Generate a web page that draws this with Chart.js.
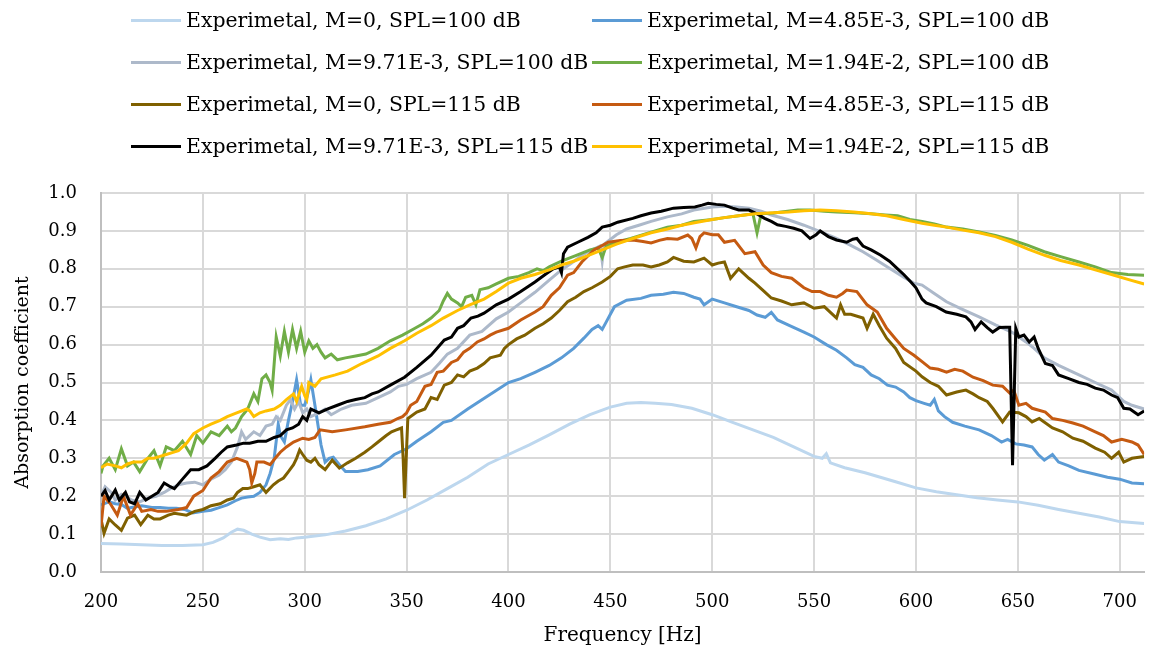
<!DOCTYPE html>
<html>
<head>
<meta charset="utf-8">
<script src="https://cdn.jsdelivr.net/npm/chart.js@4.4.1/dist/chart.umd.min.js"></script>
<style>
  html, body { margin: 0; padding: 0; background: #fff; }
  #wrap { position: relative; width: 1157px; height: 652px; }
  #legend { position: absolute; left: 0; top: 0; width: 1157px; height: 170px; font-family: "DejaVu Serif", serif; font-size: 20.4px; color: #000; }
  .item { position: absolute; height: 24px; display: flex; align-items: center; white-space: nowrap; }
  .swatch { display: inline-block; width: 50px; height: 3px; margin-right: 5px; }
</style>
</head>
<body>
<div id="wrap">
  <canvas id="absorptionChart" width="1157" height="652"></canvas>
  <div id="legend"></div>
</div>
<script>
// [frequency Hz, absorption coefficient]
var expM0_100 = [[200,0.075],[210,0.074],[220,0.072],[230,0.070],[240,0.070],[250,0.072],[255,0.078],[260,0.090],[264,0.105],[267,0.113],
  [270,0.110],[274,0.100],[278,0.092],[283,0.085],[288,0.088],[292,0.086],[296,0.090],[300,0.092],[310,0.098],[320,0.108],
  [330,0.122],[340,0.140],[350,0.163],[360,0.190],[370,0.220],[380,0.250],[390,0.285],[400,0.310],[410,0.335],[420,0.362],
  [430,0.390],[440,0.415],[450,0.435],[458,0.445],[465,0.447],[472,0.445],[480,0.442],[490,0.432],[500,0.415],[510,0.395],
  [520,0.375],[530,0.355],[540,0.330],[550,0.305],[554,0.300],[556,0.312],[558,0.288],[565,0.275],[575,0.262],[590,0.238],
  [600,0.222],[610,0.212],[620,0.204],[630,0.196],[640,0.190],[650,0.185],[660,0.176],[670,0.165],[680,0.155],[690,0.145],
  [700,0.133],[712,0.128]];

var expM485_100 = [[200,0.177],[204,0.185],[207,0.18],[210,0.178],[213,0.168],[217,0.172],[220,0.175],[225,0.17],[229,0.17],[233,0.168],
  [237,0.168],[241,0.165],[245,0.156],[250,0.16],[254,0.163],[258,0.17],[262,0.177],[266,0.188],[269,0.195],[272,0.198],
  [275,0.2],[278,0.21],[281,0.23],[283,0.26],[285,0.30],[287,0.39],[288,0.36],[290,0.343],[292,0.40],[294,0.45],
  [296,0.507],[298,0.44],[300,0.44],[302,0.48],[303,0.507],[305,0.44],[307,0.37],[308,0.335],[310,0.29],[312,0.30],
  [314,0.303],[317,0.283],[320,0.265],[326,0.265],[331,0.27],[337,0.28],[344,0.31],[350,0.325],[355,0.345],[362,0.37],
  [368,0.395],[372,0.40],[380,0.43],[390,0.465],[400,0.50],[406,0.51],[413,0.527],[420,0.545],[426,0.565],[432,0.59],
  [437,0.617],[441,0.64],[444,0.65],[446,0.64],[448,0.66],[452,0.70],[458,0.717],[465,0.722],[470,0.73],[476,0.733],
  [481,0.738],[486,0.735],[491,0.725],[494,0.72],[496,0.705],[500,0.72],[506,0.71],[512,0.70],[518,0.69],[522,0.678],
  [526,0.672],[529,0.685],[532,0.665],[538,0.65],[545,0.633],[550,0.62],[556,0.60],[561,0.585],[566,0.565],[570,0.547],
  [574,0.54],[578,0.52],[582,0.51],[586,0.493],[590,0.488],[594,0.475],[597,0.46],[600,0.452],[604,0.445],[607,0.44],
  [609,0.455],[611,0.425],[614,0.41],[618,0.395],[624,0.385],[631,0.375],[637,0.36],[642,0.343],[645,0.35],[649,0.338],
  [653,0.335],[657,0.33],[660,0.31],[663,0.295],[667,0.31],[670,0.29],[675,0.28],[680,0.268],[688,0.258],[694,0.25],
  [700,0.245],[706,0.235],[712,0.233]];

var expM971_100 = [[200,0.20],[202,0.225],[205,0.21],[207,0.19],[210,0.205],[212,0.20],[215,0.19],[219,0.185],[223,0.195],[227,0.20],
  [231,0.21],[234,0.22],[238,0.23],[242,0.235],[246,0.237],[250,0.23],[254,0.245],[258,0.256],[261,0.27],[264,0.29],
  [267,0.33],[269,0.37],[271,0.35],[273,0.36],[275,0.37],[278,0.36],[281,0.385],[284,0.39],[286,0.41],[288,0.40],
  [291,0.44],[293,0.455],[295,0.43],[297,0.45],[299,0.42],[301,0.43],[303,0.41],[307,0.42],[310,0.43],[313,0.415],
  [318,0.43],[323,0.44],[330,0.445],[336,0.46],[342,0.475],[346,0.49],[350,0.495],[355,0.51],[362,0.527],[366,0.55],
  [370,0.575],[375,0.59],[381,0.625],[387,0.635],[394,0.668],[400,0.686],[406,0.71],[413,0.738],[420,0.77],[426,0.797],
  [431,0.815],[436,0.836],[441,0.85],[445,0.86],[446,0.82],[447,0.865],[453,0.89],[458,0.905],[464,0.915],[470,0.925],
  [478,0.937],[485,0.945],[491,0.955],[500,0.963],[506,0.965],[512,0.963],[518,0.96],[524,0.952],[529,0.942],[537,0.93],
  [545,0.915],[553,0.898],[561,0.88],[568,0.862],[574,0.845],[580,0.825],[586,0.805],[594,0.778],[599,0.762],[603,0.757],
  [609,0.735],[615,0.713],[622,0.695],[631,0.673],[639,0.652],[647,0.633],[654,0.607],[658,0.59],[663,0.565],[670,0.545],
  [680,0.52],[688,0.50],[696,0.48],[702,0.45],[706,0.44],[712,0.43]];

var expM194_100 = [[200,0.26],[201,0.28],[204,0.30],[207,0.27],[210,0.325],[213,0.28],[216,0.29],[219,0.265],[223,0.30],[226,0.32],
  [229,0.28],[232,0.33],[236,0.32],[240,0.345],[244,0.31],[247,0.36],[250,0.34],[254,0.37],[258,0.36],[262,0.385],
  [264,0.37],[266,0.38],[269,0.41],[272,0.43],[275,0.47],[277,0.45],[279,0.51],[281,0.52],[283,0.50],[284,0.48],
  [286,0.62],[288,0.57],[290,0.635],[292,0.58],[294,0.64],[296,0.59],[298,0.635],[300,0.58],[302,0.61],[304,0.59],
  [306,0.60],[308,0.58],[310,0.565],[313,0.575],[316,0.56],[320,0.565],[325,0.57],[330,0.575],[336,0.59],[342,0.61],
  [348,0.625],[353,0.64],[358,0.655],[362,0.67],[366,0.69],[368,0.715],[370,0.735],[372,0.72],[375,0.71],[377,0.70],
  [379,0.725],[382,0.73],[384,0.705],[386,0.745],[390,0.75],[394,0.76],[400,0.775],[405,0.78],[410,0.79],[414,0.80],
  [417,0.795],[420,0.805],[426,0.82],[433,0.835],[440,0.85],[444,0.855],[446,0.83],[448,0.86],[453,0.87],[460,0.88],
  [466,0.89],[472,0.90],[478,0.91],[485,0.915],[491,0.925],[500,0.93],[506,0.935],[513,0.94],[520,0.945],[522,0.895],
  [524,0.945],[530,0.947],[537,0.952],[542,0.955],[548,0.955],[555,0.952],[561,0.95],[570,0.948],[578,0.945],[585,0.942],
  [591,0.94],[597,0.93],[603,0.925],[609,0.918],[615,0.91],[623,0.905],[631,0.897],[639,0.888],[647,0.876],[655,0.862],
  [663,0.845],[671,0.832],[680,0.818],[688,0.805],[696,0.79],[704,0.785],[712,0.783]];

var expM0_115 = [[200,0.14],[201.5,0.102],[204,0.14],[207,0.124],[210,0.11],[213,0.142],[216.5,0.15],[219.5,0.125],[223,0.15],[226,0.14],
  [229,0.14],[233,0.15],[236,0.155],[242,0.15],[246,0.16],[250,0.165],[254,0.175],[258.5,0.18],[262,0.19],[265,0.195],
  [267,0.21],[269.6,0.22],[272,0.22],[275,0.225],[278,0.23],[281,0.21],[284.6,0.23],[287,0.24],[289.6,0.248],[292,0.265],
  [294.5,0.283],[296,0.30],[297.5,0.322],[299,0.31],[301,0.295],[303,0.29],[305,0.30],[307,0.283],[310,0.27],[313.5,0.295],
  [317,0.274],[321,0.288],[325,0.30],[329.5,0.316],[333,0.33],[336,0.343],[340,0.36],[342.6,0.37],[345,0.375],[347.5,0.38],
  [348.3,0.30],[349,0.195],[349.8,0.30],[350.6,0.405],[355,0.422],[359,0.43],[362,0.46],[365,0.455],[368.5,0.493],[372,0.50],
  [375,0.52],[378,0.515],[381,0.53],[384.7,0.538],[388,0.55],[391,0.565],[396,0.572],[398,0.59],[400,0.60],[404,0.615],
  [408,0.625],[413,0.643],[417,0.655],[421,0.67],[425,0.69],[429,0.713],[433,0.725],[437,0.74],[441,0.75],[446,0.765],
  [450,0.78],[453.6,0.80],[457,0.805],[461,0.81],[466,0.81],[470,0.805],[474,0.81],[478,0.818],[481,0.83],[486,0.82],
  [491,0.818],[496,0.828],[500,0.81],[503,0.815],[506,0.818],[509,0.775],[513,0.80],[518,0.775],[521,0.762],[525.6,0.74],
  [529,0.723],[534,0.715],[539,0.705],[545,0.71],[550,0.696],[555,0.70],[558,0.685],[561,0.67],[563,0.705],[565,0.68],
  [568,0.68],[574,0.67],[576,0.643],[579,0.68],[582,0.65],[585.6,0.617],[590,0.59],[594,0.553],[600,0.53],[603,0.515],
  [607,0.50],[611,0.49],[615,0.467],[620,0.475],[624.5,0.48],[628,0.47],[631,0.46],[635,0.45],[637.7,0.432],[642.5,0.396],
  [646,0.422],[650.5,0.42],[654,0.41],[657,0.396],[660.5,0.405],[667,0.38],[672,0.37],[677,0.353],[682,0.345],[688,0.327],
  [692.6,0.316],[696,0.30],[699.5,0.316],[702,0.29],[706,0.30],[712,0.305]];

var expM485_115 = [[200,0.12],[201.5,0.2],[204.6,0.18],[208,0.15],[211,0.2],[214.5,0.15],[218,0.18],[220,0.16],[224.5,0.165],[228,0.16],
  [232,0.16],[238,0.165],[242,0.17],[245.5,0.20],[250,0.215],[254,0.248],[258,0.265],[262,0.29],[266.6,0.30],[271.6,0.29],
  [273,0.27],[274,0.235],[275.5,0.26],[276.5,0.29],[280,0.29],[283,0.283],[285.5,0.30],[288,0.316],[291,0.33],[294.5,0.343],
  [299,0.353],[302,0.35],[305,0.355],[307.5,0.375],[313.5,0.37],[320,0.375],[329.5,0.383],[336,0.39],[342,0.395],[345.6,0.405],
  [348,0.41],[350,0.42],[352,0.44],[355,0.45],[359,0.49],[362,0.495],[365,0.527],[368,0.53],[372,0.553],[375,0.56],
  [378,0.58],[381,0.59],[384.7,0.607],[388,0.615],[391,0.625],[394,0.633],[400,0.643],[406,0.665],[413,0.686],[417,0.70],
  [421,0.73],[425,0.75],[429,0.783],[432,0.79],[436,0.818],[442,0.85],[449,0.87],[455,0.875],[461,0.876],[466,0.872],
  [470,0.868],[474,0.875],[478,0.88],[483,0.878],[488,0.889],[490,0.88],[492,0.855],[494,0.885],[496,0.895],[500,0.89],
  [503,0.89],[506,0.87],[511,0.875],[516,0.84],[521,0.845],[525,0.81],[529,0.79],[534,0.78],[539,0.775],[545,0.75],
  [549,0.74],[553,0.74],[557,0.73],[561,0.725],[564,0.735],[566,0.744],[571,0.74],[576,0.705],[581,0.686],[585.6,0.643],
  [590,0.615],[594,0.59],[599,0.572],[603,0.555],[607,0.538],[611,0.535],[615,0.527],[619,0.535],[623,0.53],[628,0.514],
  [633,0.505],[637.7,0.493],[642.5,0.49],[646,0.472],[648,0.48],[650.5,0.44],[654,0.445],[657,0.432],[663.5,0.422],[667,0.405],
  [672,0.40],[677,0.393],[682,0.385],[688,0.37],[692,0.36],[696,0.343],[701,0.35],[706,0.343],[709,0.335],[712,0.31]];

var expM971_115 = [[200,0.20],[202,0.215],[204,0.19],[207,0.216],[209,0.19],[212,0.21],[214,0.185],[216.5,0.18],[219,0.21],[222,0.19],
  [225,0.2],[228,0.21],[231,0.235],[234,0.225],[236,0.22],[240,0.245],[244,0.27],[248,0.27],[252,0.28],[256,0.30],
  [259,0.316],[262,0.33],[266.5,0.335],[270,0.34],[273,0.34],[277,0.345],[281,0.345],[285,0.355],[288,0.36],[291,0.375],
  [294,0.38],[297,0.39],[299,0.41],[301,0.40],[303,0.43],[307,0.42],[311,0.43],[316,0.44],[321,0.45],[325,0.455],
  [329.5,0.46],[333,0.47],[336,0.475],[342,0.493],[349,0.514],[355,0.54],[362,0.572],[368.5,0.612],[372,0.62],[375,0.643],
  [378,0.65],[381.6,0.67],[385,0.675],[388,0.683],[394,0.705],[400,0.72],[406,0.74],[413,0.765],[418,0.785],[422,0.80],
  [425,0.805],[426,0.79],[427,0.84],[429,0.857],[434,0.87],[439,0.883],[443,0.895],[446,0.91],[450,0.915],[453.6,0.923],
  [461,0.933],[465,0.94],[470,0.947],[475,0.952],[481,0.96],[486,0.962],[491.5,0.963],[495,0.968],[498,0.973],[502,0.97],
  [506,0.968],[510,0.96],[513,0.955],[518,0.955],[522,0.945],[525.7,0.933],[529,0.925],[532,0.916],[536,0.912],[540,0.907],
  [544,0.90],[548,0.88],[551,0.89],[553,0.9],[557,0.885],[561,0.876],[566,0.87],[569,0.878],[571,0.88],[574,0.86],
  [578,0.85],[582.7,0.836],[587,0.82],[591,0.80],[594,0.785],[597.5,0.765],[600,0.75],[603,0.72],[605,0.71],[610,0.70],
  [614.8,0.686],[620,0.68],[624.5,0.673],[627,0.66],[629,0.64],[632,0.66],[635,0.645],[637.7,0.633],[641,0.645],[644,0.646],
  [646,0.646],[647.4,0.282],[649,0.643],[650.5,0.62],[653,0.625],[655.6,0.607],[658,0.62],[660,0.59],[663.5,0.55],[667,0.545],
  [670,0.52],[675,0.51],[680,0.50],[684,0.495],[688,0.485],[692,0.48],[696,0.467],[699,0.46],[702,0.432],[705,0.43],
  [709,0.415],[712,0.425]];

var expM194_115 = [[200,0.275],[203,0.285],[207,0.28],[210,0.275],[213,0.285],[216,0.29],[220,0.29],[223,0.30],[226,0.30],[229,0.305],
  [232,0.31],[235,0.315],[238,0.32],[242,0.34],[245.5,0.365],[250,0.38],[254,0.39],[258.5,0.40],[262,0.41],[266.6,0.42],
  [271.5,0.43],[273,0.425],[275,0.41],[278,0.42],[281,0.425],[285,0.43],[288,0.44],[291,0.455],[294.5,0.47],[296,0.45],
  [298.5,0.49],[300,0.465],[301,0.455],[302,0.50],[305,0.49],[308,0.51],[315,0.52],[321,0.53],[328,0.55],[336,0.57],
  [342,0.59],[349,0.61],[355,0.63],[362,0.65],[368,0.67],[375,0.69],[381,0.705],[388,0.72],[394,0.74],[400,0.762],
  [406,0.775],[413,0.785],[420,0.797],[426,0.81],[432,0.82],[439,0.835],[446,0.85],[453,0.865],[461,0.88],[470,0.895],
  [478,0.905],[485,0.915],[492,0.922],[500,0.93],[506,0.935],[513,0.94],[521,0.945],[530,0.948],[537.5,0.95],[545,0.953],
  [553,0.955],[561,0.953],[569.5,0.95],[578,0.945],[585.6,0.94],[594,0.93],[603,0.92],[609,0.915],[615,0.91],[623,0.902],
  [631,0.895],[639,0.885],[647,0.87],[655,0.852],[663.5,0.835],[671,0.822],[680,0.81],[688,0.797],[696,0.785],[704,0.772],
  [712,0.76]];

var seriesNames = [
  "Experimetal, M=0, SPL=100 dB",
  "Experimetal, M=4.85E-3, SPL=100 dB",
  "Experimetal, M=9.71E-3, SPL=100 dB",
  "Experimetal, M=1.94E-2, SPL=100 dB",
  "Experimetal, M=0, SPL=115 dB",
  "Experimetal, M=4.85E-3, SPL=115 dB",
  "Experimetal, M=9.71E-3, SPL=115 dB",
  "Experimetal, M=1.94E-2, SPL=115 dB"
];
var seriesData = [expM0_100, expM485_100, expM971_100, expM194_100, expM0_115, expM485_115, expM971_115, expM194_115];
var seriesColors = ["#bdd7ee", "#5b9bd5", "#adb9ca", "#70ad47", "#7f6000", "#c55a11", "#000000", "#ffc000"];

var fontFamily = "'DejaVu Serif', serif";

var datasets = seriesData.map(function (pts, i) {
  return {
    label: seriesNames[i],
    data: pts.map(function (p) { return { x: p[0], y: p[1] }; }),
    borderColor: seriesColors[i],
    backgroundColor: seriesColors[i],
    borderWidth: 3,
    pointRadius: 0,
    tension: 0,
    order: seriesData.length - 1 - i
  };
});

var chart = new Chart("absorptionChart", {
  type: "line",
  data: { datasets: datasets },
  options: {
    responsive: false,
    animation: false,
    layout: { padding: { top: 193, right: 5, left: 0, bottom: 0 } },
    plugins: {
      legend: { display: false },
      tooltip: { enabled: false }
    },
    scales: {
      x: {
        type: "linear",
        min: 200,
        max: 712,
        afterFit: function (scale) { scale.height = 80; },
        ticks: {
          stepSize: 50,
          includeBounds: false,
          color: "#000",
          padding: 20,
          maxRotation: 0,
          font: { family: fontFamily, size: 18 }
        },
        grid: { color: "#d9d9d9", lineWidth: 2, drawTicks: false },
        border: { color: "#bfbfbf", width: 2 },
        title: {
          display: true,
          text: "Frequency [Hz]",
          color: "#000",
          padding: { top: 8 },
          font: { family: fontFamily, size: 20 }
        }
      },
      y: {
        min: 0,
        max: 1,
        afterFit: function (scale) { scale.width = 101; },
        ticks: {
          stepSize: 0.1,
          color: "#000",
          padding: 24,
          font: { family: fontFamily, size: 18 },
          callback: function (v) { return v.toFixed(1); }
        },
        grid: { color: "#d9d9d9", lineWidth: 2, drawTicks: false },
        border: { color: "#bfbfbf", width: 2 },
        title: {
          display: true,
          text: "Absorption coefficient",
          color: "#000",
          padding: { top: 12, bottom: 0 },
          font: { family: fontFamily, size: 19 }
        }
      }
    }
  }
});

// legend laid out as a 2-column grid like the original
var legendBox = document.getElementById("legend");
chart.data.datasets.forEach(function (ds, i) {
  var item = document.createElement("div");
  item.className = "item";
  item.style.left = (i % 2 === 0 ? 131 : 592) + "px";
  item.style.top = (8 + Math.floor(i / 2) * 42) + "px";
  var sw = document.createElement("span");
  sw.className = "swatch";
  sw.style.background = ds.borderColor;
  var txt = document.createElement("span");
  txt.textContent = ds.label;
  item.appendChild(sw);
  item.appendChild(txt);
  legendBox.appendChild(item);
});
</script>
</body>
</html>
